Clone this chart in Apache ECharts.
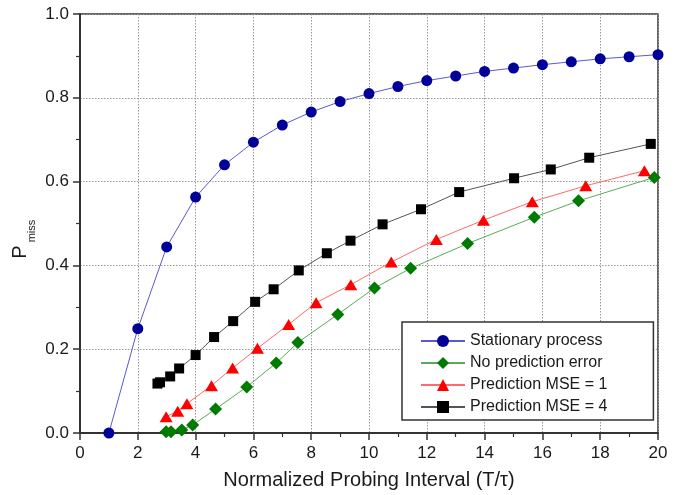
<!DOCTYPE html>
<html>
<head>
<meta charset="utf-8">
<script src="https://cdn.jsdelivr.net/npm/echarts@6/dist/echarts.min.js"></script>
<style>html,body{margin:0;padding:0;background:#fff;}#c{width:681px;height:495px;}</style>
</head>
<body>
<div id="c"></div>
<script>
const seriesNames = ['Stationary process', 'No prediction error', 'Prediction MSE = 1', 'Prediction MSE = 4'];

const stationaryX = [1,2,3,4,5,6,7,8,9,10,11,12,13,14,15,16,17,18,19,20];
const stationaryY = [0,0.249,0.444,0.563,0.640,0.694,0.735,0.766,0.791,0.810,0.827,0.841,0.852,0.863,0.871,0.879,0.886,0.893,0.898,0.903];

const noErrX = [2.98,3.15,3.52,3.90,4.69,5.77,6.79,7.54,8.92,10.19,11.44,13.41,15.72,17.25,19.87];
const noErrY = [0.003,0.003,0.007,0.019,0.057,0.110,0.167,0.216,0.283,0.346,0.393,0.452,0.515,0.554,0.610];

const mse1X = [2.98,3.38,3.70,4.55,5.28,6.14,7.22,8.17,9.37,10.77,12.33,13.96,15.65,17.5,19.53];
const mse1Y = [0.039,0.052,0.070,0.113,0.155,0.202,0.259,0.311,0.354,0.408,0.462,0.508,0.552,0.590,0.626];

const mse4X = [2.68,2.77,3.12,3.43,4.0,4.64,5.30,6.06,6.70,7.57,8.54,9.36,10.47,11.80,13.12,15.02,16.29,17.62,19.75];
const mse4Y = [0.118,0.121,0.135,0.154,0.186,0.229,0.267,0.313,0.343,0.388,0.429,0.459,0.498,0.534,0.575,0.608,0.629,0.657,0.690];

const xTicks = {min: 0, max: 20, interval: 2};
const yTicks = {min: 0, max: 1, interval: 0.2};

const FONT = 'Liberation Sans, Arial, Helvetica, sans-serif';

function pairs(xs, ys) { return xs.map((x, i) => [x, ys[i]]); }

const chart = echarts.init(document.getElementById('c'), null, {renderer: 'canvas'});

const axisCommon = {
  axisLine: {show: true, onZero: false, lineStyle: {color: '#333', width: 2}},
  axisTick: {show: true, inside: false, length: 7, lineStyle: {color: '#333', width: 1.5}},
  minorTick: {show: true, splitNumber: 2, length: 4, lineStyle: {color: '#333', width: 1.2}},
  splitLine: {show: true, lineStyle: {color: '#999', type: [1.5, 1.5], width: 1}},
  axisLabel: {color: '#1a1a1a', fontSize: 17, fontFamily: FONT}
};

const option = {
  animation: false,
  backgroundColor: '#fff',
  grid: {left: 80, right: 23, top: 14, bottom: 61, show: true, borderColor: '#333', borderWidth: 1.5, backgroundColor: 'transparent'},
  xAxis: Object.assign({}, axisCommon, {
    type: 'value', min: xTicks.min, max: xTicks.max, interval: xTicks.interval,
    name: 'Normalized Probing Interval (T/\u03c4)', nameLocation: 'middle', nameGap: 37,
    nameTextStyle: {fontSize: 20, color: '#1a1a1a', fontFamily: FONT},
    axisLabel: Object.assign({}, axisCommon.axisLabel, {margin: 12})
  }),
  yAxis: Object.assign({}, axisCommon, {
    type: 'value', min: yTicks.min, max: yTicks.max, interval: yTicks.interval,
    axisLabel: Object.assign({}, axisCommon.axisLabel, {margin: 11, formatter: v => v.toFixed(1)})
  }),
  legend: {
    orient: 'vertical', left: 402, top: 322,
    itemWidth: 44, itemHeight: 15, itemGap: 6,
    padding: [11, 46, 5, 18],
    borderColor: '#333', borderWidth: 1.5, backgroundColor: '#fff',
    textStyle: {fontSize: 16, color: '#1a1a1a', fontFamily: FONT},
    data: seriesNames
  },
  graphic: [
    {type: 'text', x: 20, y: 252, rotation: Math.PI / 2,
     style: {text: 'P', fontSize: 20, fontFamily: FONT, fill: '#1a1a1a', align: 'center', verticalAlign: 'middle'}},
    {type: 'text', x: 32, y: 231, rotation: Math.PI / 2,
     style: {text: 'miss', fontSize: 11, fontFamily: FONT, fill: '#1a1a1a', align: 'center', verticalAlign: 'middle'}}
  ],
  series: [
    {name: seriesNames[0], type: 'line', data: pairs(stationaryX, stationaryY), symbol: 'circle', symbolSize: 11,
     itemStyle: {color: '#000099'}, lineStyle: {color: '#5a5ad0', width: 1}, z: 5},
    {name: seriesNames[1], type: 'line', data: pairs(noErrX, noErrY), symbol: 'diamond', symbolSize: 13,
     itemStyle: {color: '#007a00'}, lineStyle: {color: '#5aaa5a', width: 1}, z: 4},
    {name: seriesNames[2], type: 'line', data: pairs(mse1X, mse1Y), symbol: 'triangle', symbolSize: [13, 11],
     itemStyle: {color: '#ff0000'}, lineStyle: {color: '#ff6a6a', width: 1}, z: 3},
    {name: seriesNames[3], type: 'line', data: pairs(mse4X, mse4Y), symbol: 'rect', symbolSize: 10,
     itemStyle: {color: '#000000'}, lineStyle: {color: '#555', width: 1}, z: 2}
  ]
};
chart.setOption(option);
</script>
</body>
</html>
